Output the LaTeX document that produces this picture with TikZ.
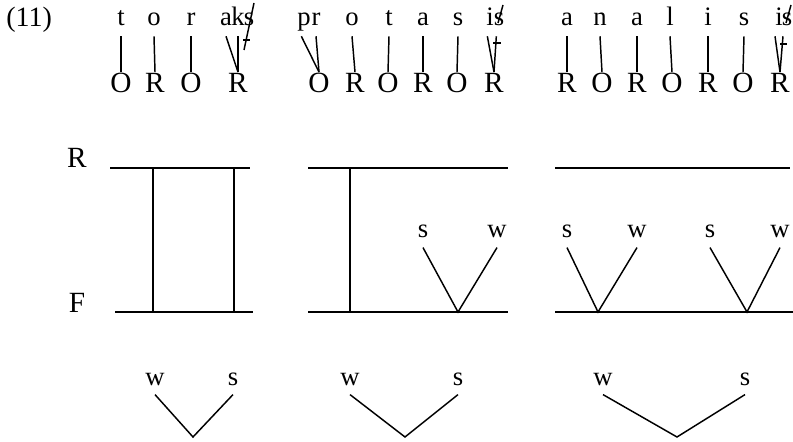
\documentclass[tikz,border=0pt]{standalone}
\usepackage{fontspec}
\setmainfont{Liberation Serif}
\usetikzlibrary{calc}

\begin{document}
\begin{tikzpicture}[x=0.75pt, y=-0.75pt,
    seg/.style={anchor=base, font=\fontsize{20}{20}\selectfont, text depth=0pt, inner xsep=0pt, inner ysep=7.5pt},
    tier/.style={anchor=base, font=\fontsize{22}{22}\selectfont, text height=14.5pt, text depth=0pt, inner xsep=0pt, inner ysep=1pt},
    lvl/.style={anchor=base, font=\fontsize{22}{22}\selectfont, inner sep=0pt},
    mk/.style={anchor=base, font=\fontsize{20}{20}\selectfont, text depth=0pt, inner xsep=0pt, inner ysep=7pt},
    assoc/.style={line width=1.1pt},
    level/.style={line width=1.4pt}]

    \useasboundingbox (0,0) rectangle (793,442);

    % === Numero dell'esempio ===
    \node[anchor=base west, font=\fontsize{21}{21}\selectfont, inner sep=0pt] (num) at (6,27) {(11)};

    % === 1. Segmenti (riga superiore) ===
    \foreach \name/\x/\txt in {t1/121/t, o1/154/o, r1/191/r, a1/226/a, k1/238/k, s1/249/s,
        p2/304/p, r2/316/r, o2/352/o, t2/389/t, a2/423/a, s2/458/s, i2/490/i, z2/499/s,
        a3/567/a, n3/600/n, b3/637/a, l3/670/l, i3/708/i, s3/744/s, j3/779/i, z3/787/s} {
        \node[seg] (\name) at (\x,26) {\txt};
    }

    % === 2. Livello O/R ===
    \foreach \name/\x/\txt in {OA/121/O, RA/155/R, OB/191/O, RB/238/R,
        OC/319/O, RC/355/R, OD/388/O, RD/423/R, OE/457/O, RE/494/R,
        RF/567/R, OF/602/O, RG/637/R, OG/672/O, RH/708/R, OH/743/O, RI/780/R} {
        \node[tier] (\name) at (\x,93) {\txt};
    }

    % === 3. Linee di associazione ===
    \draw[assoc] (t1.south) -- (OA.north);
    \draw[assoc] (o1.south) -- (RA.north);
    \draw[assoc] (r1.south) -- (OB.north);
    \draw[assoc] (a1.south) -- (RB.north);
    \draw[assoc] (k1.south) -- (RB.north);
    \draw[assoc] ([xshift=-2pt]p2.south) -- (OC.north);
    \draw[assoc] (r2.south) -- (OC.north);
    \draw[assoc] (o2.south) -- (RC.north);
    \draw[assoc] (t2.south) -- (OD.north);
    \draw[assoc] (a2.south) -- (RD.north);
    \draw[assoc] (s2.south) -- (OE.north);
    \draw[assoc] ([xshift=-2pt]i2.south) -- (RE.north);
    \draw[assoc] ([xshift=-2pt]z2.south) -- (RE.north);
    \draw[assoc] (a3.south) -- (RF.north);
    \draw[assoc] (n3.south) -- (OF.north);
    \draw[assoc] (b3.south) -- (RG.north);
    \draw[assoc] (l3.south) -- (OG.north);
    \draw[assoc] (i3.south) -- (RH.north);
    \draw[assoc] (s3.south) -- (OH.north);
    \draw[assoc] ([xshift=-3pt]j3.south) -- (RI.north);
    \draw[assoc] ([xshift=-3pt]z3.south) -- (RI.north);

    % s estrametrica (barrata) e taglio dell'associazione
    \draw[assoc] ($(s1.base)+(5,-23)$) -- ($(s1.base)+(-5,24)$);
    \draw[assoc] ($(s1.base)+(-6,14)$) -- ($(s1.base)+(1,14)$);
    \draw[assoc] ($(z2.base)+(4,-21)$) -- ($(z2.base)+(-1,-3)$);
    \draw[assoc] ($(z2.base)+(-6,17)$) -- ($(z2.base)+(2,17)$);
    \draw[assoc] ($(z3.base)+(4,-21)$) -- ($(z3.base)+(-1,-3)$);
    \draw[assoc] ($(z3.base)+(-7,18)$) -- ($(z3.base)+(0,18)$);

    % === 4. Griglia R / F ===
    \node[lvl] (labR) at (77,168) {R};
    \node[lvl] (labF) at (77,312) {F};

    % linee di livello
    \draw[level] (110,168) -- (250,168);
    \draw[level] (115,312) -- (253,312);
    \draw[level] (308,168) -- (508,168);
    \draw[level] (308,312) -- (508,312);
    \draw[level] (555,168) -- (790,168);
    \draw[level] (555,312) -- (793,312);

    % tratti verticali
    \draw[assoc] (153,168) -- (153,312);
    \draw[assoc] (234,168) -- (234,312);
    \draw[assoc] (350,168) -- (350,312);

    % === 5. Piedi (s w) ===
    \node[mk] (fs1) at (423,238) {s};
    \node[mk] (fw1) at (497,238) {w};
    \node[mk] (fs2) at (567,238) {s};
    \node[mk] (fw2) at (637,238) {w};
    \node[mk] (fs3) at (710,238) {s};
    \node[mk] (fw3) at (780,238) {w};
    \coordinate (fv1) at (458,312);
    \coordinate (fv2) at (598,312);
    \coordinate (fv3) at (747,312);
    \draw[assoc] (fs1.south) -- (fv1) -- (fw1.south);
    \draw[assoc] (fs2.south) -- (fv2) -- (fw2.south);
    \draw[assoc] (fs3.south) -- (fv3) -- (fw3.south);

    % === 6. Struttura inferiore (w s) ===
    \node[mk] (bw1) at (155,385) {w};
    \node[mk] (bs1) at (233,385) {s};
    \node[mk] (bw2) at (350,385) {w};
    \node[mk] (bs2) at (458,385) {s};
    \node[mk] (bw3) at (603,385) {w};
    \node[mk] (bs3) at (745,385) {s};
    \coordinate (bv1) at (193,437);
    \coordinate (bv2) at (405,437);
    \coordinate (bv3) at (677,437);
    \draw[assoc] (bw1.south) -- (bv1) -- (bs1.south);
    \draw[assoc] (bw2.south) -- (bv2) -- (bs2.south);
    \draw[assoc] (bw3.south) -- (bv3) -- (bs3.south);

\end{tikzpicture}
\end{document}
